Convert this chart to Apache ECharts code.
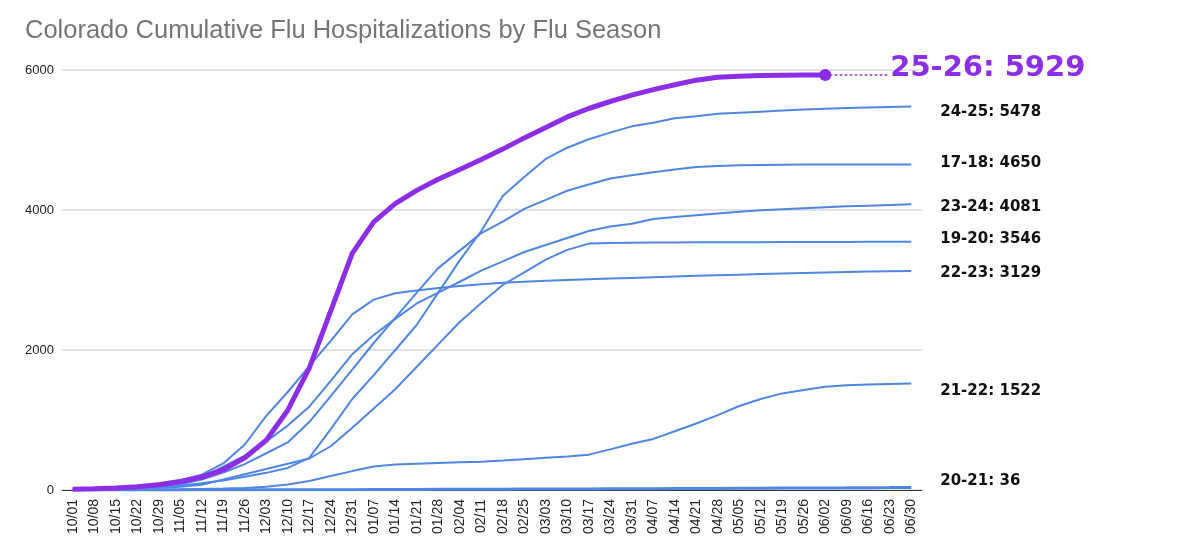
<!DOCTYPE html>
<html>
<head>
<meta charset="utf-8">
<title>Colorado Cumulative Flu Hospitalizations by Flu Season</title>
<script src="https://cdn.jsdelivr.net/npm/echarts@6/dist/echarts.min.js"></script>
<style>
  html, body { margin: 0; padding: 0; background: #fff; }
  #main { width: 1200px; height: 555px; }
</style>
</head>
<body>
<div id="main"></div>
<script>
var weeks = ['10/01', '10/08', '10/15', '10/22', '10/29', '11/05', '11/12', '11/19', '11/26', '12/03',
	'12/10', '12/17', '12/24', '12/31', '01/07', '01/14', '01/21', '01/28', '02/04', '02/11',
	'02/18', '02/25', '03/03', '03/10', '03/17', '03/24', '03/31', '04/07', '04/14', '04/21',
	'04/28', '05/05', '05/12', '05/19', '05/26', '06/02', '06/09', '06/16', '06/23', '06/30'];

var yTicks = [0, 2000, 4000, 6000];

// current season (stops at 06/02)
var s2526 = [10, 18, 30, 48, 75, 120, 185, 290, 460, 710, 1140, 1740, 2560, 3380, 3830, 4090, 4280, 4440,
	4580, 4720, 4870, 5030, 5180, 5330, 5450, 5550, 5640, 5720, 5790, 5855, 5895, 5912, 5920, 5924, 5927, 5929];

var s2425 = [5, 10, 18, 28, 40, 60, 95, 135, 190, 245, 315, 460, 870, 1300, 1640, 2000, 2360, 2820, 3280, 3700,
	4200, 4470, 4730, 4890, 5010, 5105, 5195, 5245, 5310, 5340, 5375, 5390, 5405, 5420, 5435, 5448, 5458, 5466, 5472, 5478];
var s1718 = [8, 15, 25, 40, 60, 80, 150, 250, 370, 525, 680, 970, 1340, 1720, 2100, 2460, 2820, 3170, 3420, 3670,
	3835, 4015, 4145, 4275, 4365, 4450, 4495, 4540, 4580, 4615, 4630, 4638, 4644, 4648, 4650, 4650, 4650, 4650, 4650, 4650];
var s2324 = [10, 20, 32, 50, 75, 110, 180, 335, 490, 695, 920, 1190, 1560, 1940, 2215, 2445, 2665, 2820, 2975, 3135,
	3265, 3400, 3500, 3600, 3700, 3765, 3805, 3870, 3900, 3925, 3950, 3975, 3995, 4010, 4025, 4040, 4052, 4062, 4072, 4081];
var s1920 = [3, 7, 12, 20, 30, 45, 76, 150, 225, 300, 375, 450, 625, 890, 1165, 1440, 1760, 2080, 2400, 2670,
	2930, 3110, 3290, 3430, 3520, 3528, 3532, 3535, 3537, 3538, 3539, 3540, 3541, 3542, 3543, 3544, 3544, 3545, 3545, 3546];
var s2223 = [10, 20, 35, 58, 92, 145, 220, 380, 650, 1060, 1400, 1770, 2130, 2510, 2720, 2810, 2850, 2885, 2915, 2940,
	2960, 2975, 2990, 3000, 3010, 3020, 3030, 3040, 3050, 3060, 3068, 3076, 3084, 3092, 3100, 3108, 3115, 3120, 3125, 3129];
var s2122 = [0, 1, 2, 4, 6, 9, 14, 20, 30, 48, 80, 130, 200, 270, 335, 365, 375, 385, 395, 405,
	420, 440, 460, 480, 505, 580, 660, 730, 840, 950, 1070, 1200, 1300, 1380, 1430, 1475, 1495, 1508, 1516, 1522];
var s2021 = [0, 0, 0, 1, 1, 1, 2, 2, 3, 3, 4, 4, 5, 5, 6, 7, 8, 9, 10, 11,
	12, 13, 14, 15, 16, 17, 18, 19, 20, 21, 22, 24, 25, 27, 28, 30, 31, 33, 34, 36];

var pastNames = ['24-25', '17-18', '23-24', '19-20', '22-23', '21-22', '20-21'];
var pastData = [s2425, s1718, s2324, s1920, s2223, s2122, s2021];

var BLUE = '#4f86e3';
var PURPLE = '#8c2ee6';

// small vertical nudges so the end labels don't collide
var labelNudge = { '24-25': 6, '17-18': -1, '23-24': 3, '19-20': -3, '22-23': 2, '21-22': 8, '20-21': -6 };

var chart = echarts.init(document.getElementById('main'), null, { renderer: 'canvas' });

var series = [];
for (let i = 0; i < pastNames.length; i++) {
	series.push({
		name: pastNames[i],
		type: 'line',
		data: pastData[i],
		showSymbol: false,
		smooth: false,
		lineStyle: { color: BLUE, width: pastNames[i] == '20-21' ? 3 : 2 },
		itemStyle: { color: BLUE },
		z: 2,
		endLabel: {
			show: true,
			distance: 29,
			offset: [0, labelNudge[pastNames[i]]],
			formatter: function (p) { return p.seriesName + ': ' + p.value; },
			color: '#111',
			fontSize: 15,
			fontWeight: 'bold',
			fontFamily: 'DejaVu Sans'
		}
	});
}

var last = s2526.length - 1;
series.push({
	name: '25-26',
	type: 'line',
	data: s2526,
	showSymbol: true,
	showAllSymbol: true,
	symbol: 'circle',
	symbolSize: function (v, p) { return p.dataIndex === last ? 12 : 0; },
	lineStyle: { color: PURPLE, width: 5 },
	itemStyle: { color: PURPLE },
	z: 5,
	endLabel: {
		show: true,
		distance: 65,
		offset: [0, -7],
		formatter: function (p) { return p.seriesName + ': ' + p.value; },
		color: PURPLE,
		fontSize: 29,
		fontWeight: 'bold',
		fontFamily: 'DejaVu Sans'
	},
	markLine: {
		silent: true,
		symbol: 'none',
		label: { show: false },
		lineStyle: { color: PURPLE, type: [1.5, 3.5], width: 1.5, cap: 'round' },
		data: [[
			{ coord: [weeks[last], s2526[last]] },
			{ coord: [weeks[last + 3], s2526[last]] }
		]]
	}
});

var option = {
	animation: false,
	backgroundColor: '#fff',
	title: {
		text: 'Colorado Cumulative Flu Hospitalizations by Flu Season',
		left: 20,
		top: 13,
		textStyle: {
			color: '#757575',
			fontSize: 25.5,
			fontWeight: 'normal',
			fontFamily: 'Liberation Sans'
		}
	},
	grid: {
		left: 62,
		right: 278,
		top: 70,
		bottom: 65
	},
	xAxis: {
		type: 'category',
		data: weeks,
		boundaryGap: true,
		axisLine: { show: true, lineStyle: { color: '#333', width: 1 } },
		axisTick: { show: false },
		axisLabel: {
			rotate: 90,
			interval: 0,
			margin: 9,
			color: '#222',
			fontSize: 14,
			fontFamily: 'Liberation Sans'
		}
	},
	yAxis: {
		type: 'value',
		min: yTicks[0],
		max: yTicks[yTicks.length - 1],
		interval: yTicks[1] - yTicks[0],
		axisLine: { show: false },
		axisTick: { show: false },
		splitLine: { lineStyle: { color: '#d9d9d9', width: 1.5 } },
		axisLabel: {
			margin: 8,
			color: '#222',
			fontSize: 13,
			fontFamily: 'Liberation Sans',
			formatter: function (v) { return String(v); }
		}
	},
	series: series
};

chart.setOption(option);
</script>
</body>
</html>
